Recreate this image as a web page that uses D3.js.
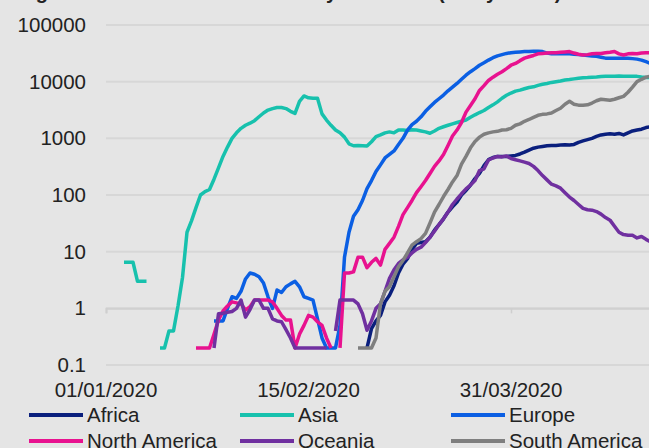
<!DOCTYPE html>
<html>
<head>
<meta charset="utf-8">
<script src="https://cdn.jsdelivr.net/npm/d3@7"></script>
<style>
  html, body { margin: 0; padding: 0; background: #e5e5e5; overflow: hidden; }
  svg { display: block; }
  text { font-family: "Liberation Sans", Arial, sans-serif; fill: #222; }
</style>
</head>
<body>
<svg id="chart" width="649" height="448"></svg>
<script>
// Daily new cases (7-day mean) by continent; each series starts at the given day offset from 1 Jan 2020
const startDate = new Date(2020, 0, 1);
const xTickLabels = ["01/01/2020", "15/02/2020", "31/03/2020"];
const yTickValues = [0.1, 1, 10, 100, 1000, 10000, 100000];
const yTickLabels = ["0.1", "1", "10", "100", "1000", "10000", "100000"];

const africaStart = 58;
const africa = [0.2, 0.44, 0.6, 0.75, 1.3, 1.7, 2.5, 4.2, 6, 7.5, 11, 14, 14.5, 15, 18, 24, 30, 38, 50, 62,
  75, 100, 120, 150, 195, 240, 330, 420, 460, 480, 480, 480, 490, 500, 530, 570, 620, 670, 700, 720,
  740, 750, 750, 760, 770, 760, 780, 850, 900, 950, 1000, 1080, 1150, 1180, 1200, 1180, 1220, 1150, 1250, 1350,
  1400, 1450, 1550, 1600];

const asiaStart = 4;
const asia = [6.5, 6.5, 6.5, 3, 3, 3, null, null,
  0.2, 0.2, 0.4, 0.4, 1.1, 3.5, 22, 35, 60, 100, 115, 125, 190, 300, 480, 700, 1000, 1250, 1500, 1700,
  1850, 2050, 2400, 2800, 3150, 3350, 3500, 3500, 3350, 3000, 2750, 4500, 5600, 5200, 5100, 5100, 2700, 2100,
  1700, 1400, 1250, 1050, 800, 740, 750, 740, 730, 870, 1070, 1150, 1250, 1300, 1250, 1400, 1400, 1380,
  1420, 1400, 1350, 1300, 1230, 1350, 1500, 1600, 1700, 1800, 1900, 2000, 2100, 2350, 2600, 2850, 3100,
  3500, 3900, 4400, 5100, 5750, 6300, 6800, 7100, 7500, 7900, 8100, 8600, 9000, 9300, 9700, 10000, 10300,
  10700, 10900, 11200, 11500, 11700, 11800, 12000, 12100, 12300, 12400, 12500, 12500, 12600, 12500, 12500,
  12500, 12400, 12100, 11900, 11800];

const europeStart = 24;
const europe = [0.6, 0.6, 0.6, 1.0, 1.6, 1.5, 2.0, 3.3, 4.2, 4.0, 3.6, 2.8, 1.6, 1.0, 2.1, 1.9, 2.4, 2.7,
  3.0, 2.4, 1.6, 1.5, 1.4, 0.65, 0.3, 0.2, 0.2, 0.2, 0.5, 8, 22, 42, 55, 80, 130, 180, 260, 340, 450, 520,
  600, 780, 1000, 1400, 1750, 2000, 2400, 3000, 3600, 4300, 5000, 5800, 6900, 8000, 9300, 11000, 13000,
  15000, 17000, 19500, 21500, 24000, 26500, 28500, 30000, 31500, 32500, 33000, 33500, 34000, 34000, 34500,
  34500, 34000, 32000, 31000, 31000, 31500, 31000, 31000, 30500, 30000, 29500, 29000, 28500, 28000, 27000,
  26000, 26000, 26000, 26000, 26000, 26000, 25500, 25000, 24000, 22500, 21000];

const northAmericaStart = 20;
const northAmerica = [0.2, 0.2, 0.2, 0.2, 0.35, 0.62, 0.9, 1.1, 1.3, 1.25, 1.2, 0.93, 1.07, 1.4, 1.4, 1.4,
  1.4, 1.3, 1.0, 0.75, 0.62, 0.62, 0.2, 0.35, 0.5, 0.75, 0.7, 0.58, 0.5, 0.3, 0.2, null, 0.2, 4.2, 4.2,
  4.4, 8, 8, 5.2, 6.5, 7.6, 5.8, 11, 14, 18, 28, 45, 60, 80, 110, 140, 180, 240, 320, 400, 520, 750, 1100,
  1400, 1900, 2900, 3800, 5000, 7000, 8500, 10500, 12000, 13500, 15000, 17000, 19500, 21000, 23500, 26000,
  27500, 29000, 31000, 31500, 32000, 32500, 32500, 33000, 33500, 34000, 32000, 30500, 29500, 30000, 31000,
  31500, 31500, 32500, 33000, 34000, 31000, 29500, 31000, 31500, 31000, 32000, 32500, 32500];

const oceaniaStart = 24;
const oceania = [0.2, 0.8, 0.82, 0.85, 0.88, 1.0, 1.4, 0.7, 0.95, 1.4, 1.4, 1.0, 1.0, 0.65, 0.6, 0.58,
  0.42, 0.3, 0.2, 0.2, 0.2, 0.2, 0.2, 0.2, 0.2, 0.2, null, 0.4, 1.4, 1.4, 1.4, 1.4, 1.2, 0.8, 0.41, 0.6,
  1.0, 1.2, 2.0, 3.4, 4.8, 6.2, 7.2, 8.0, 9.5, 11, 12, 14.5, 18, 23, 30, 38, 50, 68, 85, 105, 128, 150,
  180, 270, 290, 415, 450, 480, 470, 490, 440, 420, 400, 380, 360, 320, 270, 220, 185, 155, 145, 132, 110,
  92, 80, 68, 58, 55, 54, 51, 46, 40, 36, 28, 22, 20, 19.5, 19.5, 17.5, 18.5, 16.5, 15];

const southAmericaStart = 56;
const southAmerica = [0.2, 0.2, 0.2, 0.2, 0.3, 1.2, 2.0, 2.4, 3.6, 5.4, 7, 9.5, 13, 15, 17, 21, 32, 50,
  68, 94, 125, 170, 220, 350, 480, 680, 880, 1050, 1180, 1250, 1300, 1330, 1400, 1420, 1500, 1700, 1800,
  2000, 2150, 2350, 2550, 2650, 2700, 2800, 3100, 3400, 4000, 4500, 4000, 3850, 3850, 3900, 4200, 4600,
  4900, 4800, 4700, 4900, 5200, 5500, 6500, 8000, 10000, 11000, 12000, 12500];

const seriesNames = ["Africa", "Asia", "Europe", "North America", "Oceania", "South America"];
const seriesColors = ["#0a1f7d", "#17c1ad", "#0b5fe3", "#e8128f", "#7030a0", "#7f7f7f"];
const seriesStarts = [africaStart, asiaStart, europeStart, northAmericaStart, oceaniaStart, southAmericaStart];
const seriesValues = [africa, asia, europe, northAmerica, oceania, southAmerica];

const svg = d3.select("#chart");
const dayOf = (start, i) => d3.timeDay.offset(startDate, start + i);

const x = d3.scaleTime()
  .domain([startDate, new Date(2020, 4, 1)])
  .range([106, 106 + 121 * 4.5]);
const y = d3.scaleLog()
  .domain([0.1, 100000])
  .range([365, 25]);

// chart title (sits at the very top edge)
svg.append("text")
  .attr("x", 18).attr("y", -1)
  .style("font-weight", "bold").style("font-size", "20px")
  .text("Figure 1: New COVID-19 cases by continent (7-day mean)");

// horizontal gridlines
svg.append("g").selectAll("line")
  .data(yTickValues).join("line")
  .attr("x1", 106).attr("x2", 660)
  .attr("y1", d => y(d)).attr("y2", d => y(d))
  .attr("stroke", "#d7d7d7").attr("stroke-width", 2);

// y axis labels
const yAxis = d3.axisLeft(y)
  .tickValues(yTickValues)
  .tickFormat((d, i) => yTickLabels[i])
  .tickSize(0).tickPadding(0);
const gy = svg.append("g").attr("transform", "translate(86,0)").call(yAxis);
gy.select(".domain").remove();
gy.selectAll("text").style("font-size", "20.5px").attr("fill", "#222")
  .style("font-family", "'Liberation Sans', Arial, sans-serif");

// x axis crosses at 1: tick marks there, labels at the bottom
const xTickDates = xTickLabels.map(s => {
  const [dd, mm, yy] = s.split("/").map(Number);
  return new Date(yy, mm - 1, dd);
});
const xAxis = d3.axisBottom(x).tickValues(xTickDates).tickFormat("").tickSize(5);
const gx = svg.append("g").attr("transform", `translate(0,${y(1)})`).call(xAxis);
gx.select(".domain").attr("stroke", "#d0d0d0").attr("stroke-width", 2);
gx.selectAll(".tick line").attr("stroke", "#cfcfcf").attr("stroke-width", 1.5);

svg.append("g").selectAll("text")
  .data(xTickDates).join("text")
  .attr("x", d => x(d)).attr("y", 397)
  .attr("text-anchor", "middle")
  .style("font-size", "20.5px")
  .text((d, i) => xTickLabels[i]);

// series lines
const line = d3.line()
  .defined(d => d.v != null)
  .x(d => x(d.date))
  .y(d => y(d.v));

seriesNames.forEach((name, k) => {
  const pts = seriesValues[k].map((v, i) => ({ date: dayOf(seriesStarts[k], i), v }));
  svg.append("path")
    .datum(pts)
    .attr("fill", "none")
    .attr("stroke", seriesColors[k])
    .attr("stroke-width", 3.5)
    .attr("stroke-linejoin", "round")
    .attr("d", line);
});

// legend: three columns, two rows
const legend = svg.append("g");
seriesNames.forEach((name, k) => {
  const col = k % 3, row = Math.floor(k / 3);
  const lx = 29 + col * 211, ly = 415 + row * 26;
  legend.append("line")
    .attr("x1", lx).attr("x2", lx + 54)
    .attr("y1", ly).attr("y2", ly)
    .attr("stroke", seriesColors[k]).attr("stroke-width", 4);
  legend.append("text")
    .attr("x", lx + 58).attr("y", ly).attr("dy", "0.35em")
    .style("font-size", "20.5px")
    .text(name);
});
</script>
</body>
</html>
